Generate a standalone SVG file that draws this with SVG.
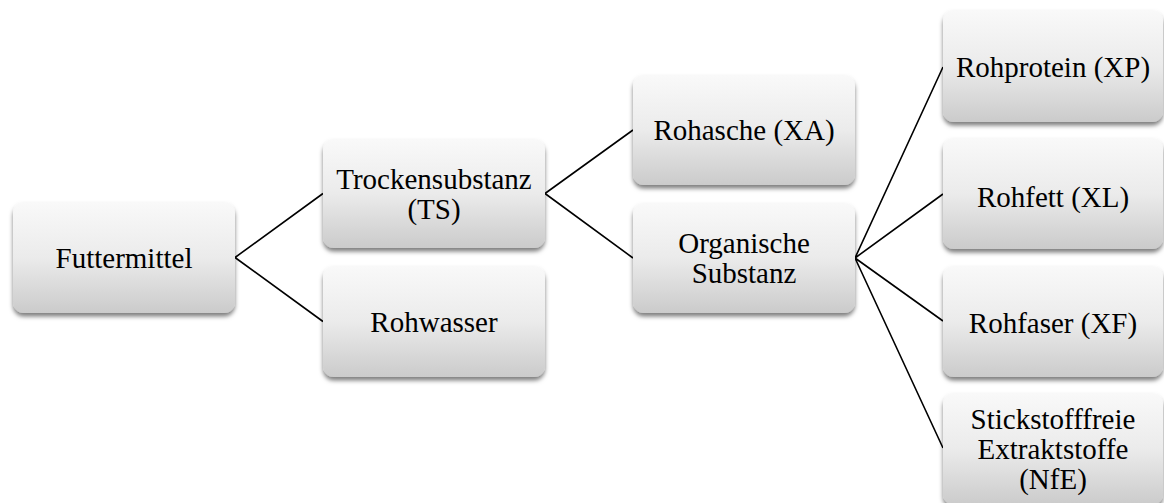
<svg xmlns="http://www.w3.org/2000/svg" width="1164" height="503" viewBox="0 0 1164 503">
<style>
.box{fill:url(#g);filter:url(#sh)}
.t{font-family:'Liberation Serif','Times New Roman',serif;font-size:29px;fill:#000;text-anchor:middle}
.c{stroke:#000;stroke-width:1.6;fill:none}
</style>
<defs>
<linearGradient id="g" x1="0" y1="0" x2="0" y2="1">
<stop offset="0" stop-color="#f9f9f9"/>
<stop offset="0.5" stop-color="#ebebeb"/>
<stop offset="1" stop-color="#cbcbcb"/>
</linearGradient>
<filter id="sh" x="-10%" y="-10%" width="120%" height="130%">
<feDropShadow dx="0" dy="3.5" stdDeviation="2" flood-color="#000" flood-opacity="0.5"/>
</filter>
</defs>
<rect width="1164" height="503" fill="#fff"/>
<g id="connectors">
<path class="c" d="M235 257.5L323 193.5M235 257.5L323 321.5"/>
<path class="c" d="M545 193.5L633 130M545 193.5L633 258"/>
<path class="c" d="M855 258L943 67M855 258L943 194M855 258L943 321M855 258L943 448"/>
</g>
<g id="n-futtermittel"><rect class="box" x="13" y="202" width="222" height="111" rx="11"/><text class="t" x="124" y="268">Futtermittel</text></g>
<g id="n-trockensubstanz"><rect class="box" x="323" y="139" width="222" height="109" rx="11"/><text class="t" x="434" y="189">Trockensubstanz</text><text class="t" x="434" y="219">(TS)</text></g>
<g id="n-rohwasser"><rect class="box" x="323" y="266" width="222" height="111" rx="11"/><text class="t" x="434" y="332">Rohwasser</text></g>
<g id="n-rohasche"><rect class="box" x="633" y="75" width="222" height="110" rx="11"/><text class="t" x="744" y="140">Rohasche (XA)</text></g>
<g id="n-organische"><rect class="box" x="633" y="203" width="222" height="110" rx="11"/><text class="t" x="744" y="253">Organische</text><text class="t" x="744" y="283">Substanz</text></g>
<g id="n-rohprotein"><rect class="box" x="943" y="10" width="220" height="112" rx="11"/><text class="t" x="1053" y="77">Rohprotein (XP)</text></g>
<g id="n-rohfett"><rect class="box" x="943" y="138" width="220" height="111" rx="11"/><text class="t" x="1053" y="207">Rohfett (XL)</text></g>
<g id="n-rohfaser"><rect class="box" x="943" y="266" width="220" height="111" rx="11"/><text class="t" x="1053" y="333">Rohfaser (XF)</text></g>
<g id="n-nfe"><rect class="box" x="943" y="393" width="220" height="112" rx="11"/><text class="t" x="1053" y="429">Stickstofffreie</text><text class="t" x="1053" y="459">Extraktstoffe</text><text class="t" x="1053" y="489">(NfE)</text></g>
</svg>
